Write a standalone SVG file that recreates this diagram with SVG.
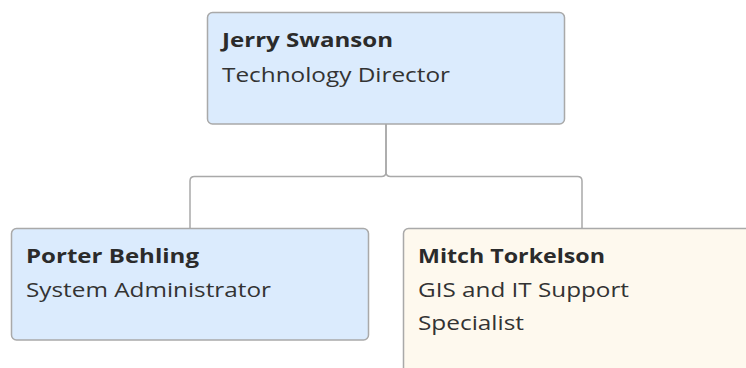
<svg xmlns="http://www.w3.org/2000/svg" width="746" height="368" viewBox="0 0 746 368">
<style>
.box{stroke:#a9a9a9;stroke-width:1.5}
.blue{fill:#dbebfd}
.cream{fill:#fef9ee}
.name{font-family:"Open Sans","Liberation Sans",sans-serif;font-weight:bold;font-size:20px;fill:#2b2b2b}
.title{font-family:"Open Sans","Liberation Sans",sans-serif;font-size:20px;fill:#333333}
.conn{fill:none;stroke:#a9a9a9;stroke-width:1.5}
</style>
<rect width="746" height="368" fill="#ffffff"/>
<g id="connectors">
<path class="conn" d="M386,124 V172 Q386,176.5 381.5,176.5 H194.5 Q190,176.5 190,181 V228.5"/>
<path class="conn" d="M386,124 V172 Q386,176.5 390.5,176.5 H577.5 Q582,176.5 582,181 V228.5"/>
</g>
<g id="jerry-swanson">
<rect class="box blue" x="207.5" y="12.5" width="357" height="111.5" rx="5"/>
<text class="name" x="222" y="47" textLength="171" lengthAdjust="spacingAndGlyphs">Jerry Swanson</text>
<text class="title" x="222" y="81.5" textLength="228" lengthAdjust="spacingAndGlyphs">Technology Director</text>
</g>
<g id="porter-behling">
<rect class="box blue" x="11.5" y="228.5" width="357" height="111.5" rx="5"/>
<text class="name" x="26" y="262.5" textLength="173" lengthAdjust="spacingAndGlyphs">Porter Behling</text>
<text class="title" x="26" y="296.5" textLength="245" lengthAdjust="spacingAndGlyphs">System Administrator</text>
</g>
<g id="mitch-torkelson">
<rect class="box cream" x="403.5" y="228.5" width="357" height="150" rx="5"/>
<text class="name" x="418" y="262.5" textLength="187" lengthAdjust="spacingAndGlyphs">Mitch Torkelson</text>
<text class="title" x="418" y="296.5" textLength="211" lengthAdjust="spacingAndGlyphs">GIS and IT Support</text>
<text class="title" x="418" y="330" textLength="106" lengthAdjust="spacingAndGlyphs">Specialist</text>
</g>
</svg>
